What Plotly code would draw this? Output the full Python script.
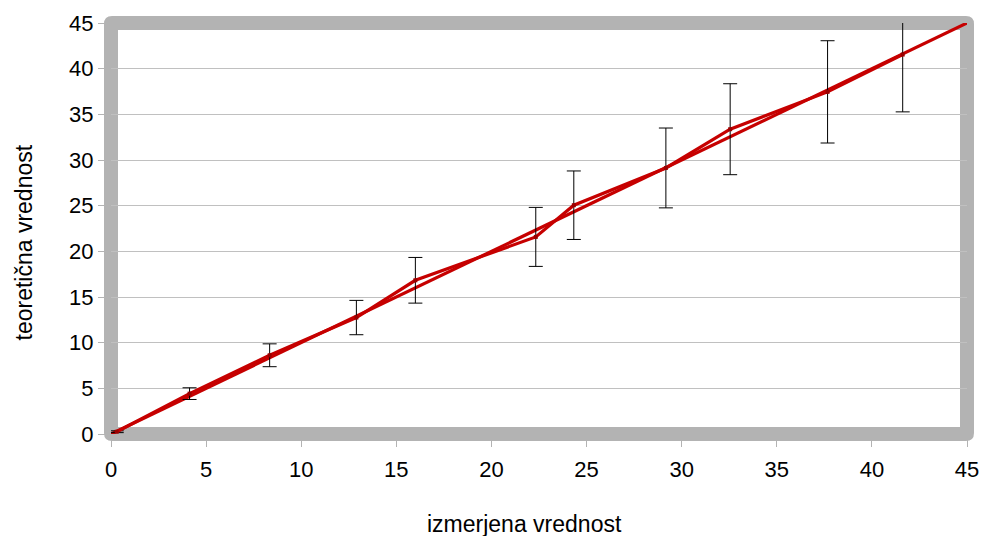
import plotly.graph_objects as go

# Data
measured = [0.3, 4.13, 8.34, 12.9, 16.0, 22.33, 24.33, 29.17, 32.55, 37.67, 41.62]
theoretical = [0.25, 4.42, 8.62, 12.75, 16.83, 21.58, 25.05, 29.13, 33.37, 37.46, 41.55]
errors = [0.1, 0.64, 1.25, 1.88, 2.5, 3.23, 3.75, 4.37, 4.98, 5.6, 6.28]
ideal_x = [0, 45]
ideal_y = [0, 45]
ticks = [0, 5, 10, 15, 20, 25, 30, 35, 40, 45]

W, H = 986, 536
ML, MR, MT, MB = 111, 19, 23, 102
PW, PH = W - ML - MR, H - MT - MB

RED = "#c60000"
FONT = "Liberation Sans, Arial, sans-serif"

fig = go.Figure()
fig.add_trace(go.Scatter(x=ideal_x, y=ideal_y, mode="lines",
                         line=dict(color=RED, width=3.2), showlegend=False))
fig.add_trace(go.Scatter(x=measured, y=theoretical, mode="lines+markers",
                         line=dict(color=RED, width=3.2),
                         marker=dict(symbol="square", size=4, color="#9a0000"),
                         error_y=dict(type="data", array=errors, visible=True,
                                      color="black", thickness=1, width=7),
                         showlegend=False))

# rounded thick gray frame (outer rounded, inner square) in paper coords
def px(xp):
    return xp / PW
def py(yp):
    return yp / PH
hw = 7   # half band width in px
r = 8    # outer corner radius px
ox0, ox1 = px(-hw), px(PW + hw)
oy0, oy1 = py(-hw), py(PH + hw)
ix0, ix1 = px(hw), px(PW - hw)
iy0, iy1 = py(hw), py(PH - hw)
rx, ry = px(r), py(r)
outer = (f"M{ox0+rx},{oy0} L{ox1-rx},{oy0} Q{ox1},{oy0} {ox1},{oy0+ry} "
         f"L{ox1},{oy1-ry} Q{ox1},{oy1} {ox1-rx},{oy1} "
         f"L{ox0+rx},{oy1} Q{ox0},{oy1} {ox0},{oy1-ry} "
         f"L{ox0},{oy0+ry} Q{ox0},{oy0} {ox0+rx},{oy0} Z")
inner = f" M{ix0},{iy0} L{ix0},{iy1} L{ix1},{iy1} L{ix1},{iy0} Z"
fig.add_shape(type="path", xref="paper", yref="paper", path=outer + inner,
              fillcolor="#b3b3b3", fillrule="evenodd", line=dict(width=0),
              layer="below")

axis_common = dict(range=[0, 45], tickvals=ticks, ticks="outside", ticklen=12,
                   tickcolor="#b3b3b3", tickwidth=1, showline=False,
                   zeroline=False, tickfont=dict(family=FONT, size=22, color="black"))
fig.update_xaxes(showgrid=False, automargin=False, ticklabelstandoff=4, **axis_common)
fig.update_yaxes(showgrid=True, gridcolor="#c0c0c0", gridwidth=1,
                 automargin=False, **axis_common)

fig.add_annotation(text="izmerjena vrednost", xref="paper", yref="paper",
                   x=(524 - ML) / PW, y=(H - MB - 524) / PH, showarrow=False,
                   xanchor="center", yanchor="middle",
                   font=dict(family=FONT, size=23, color="black"))
fig.add_annotation(text="teoretična vrednost", xref="paper", yref="paper",
                   x=(23.5 - ML) / PW, y=(H - MB - 243) / PH, showarrow=False,
                   textangle=-90, xanchor="center", yanchor="middle",
                   font=dict(family=FONT, size=23, color="black"))

fig.update_layout(width=W, height=H, margin=dict(l=ML, r=MR, t=MT, b=MB),
                  paper_bgcolor="white", plot_bgcolor="white")

fig.write_html("out.html", config={"displayModeBar": False},
               post_script="document.body.style.margin='0';document.body.style.padding='0';")
